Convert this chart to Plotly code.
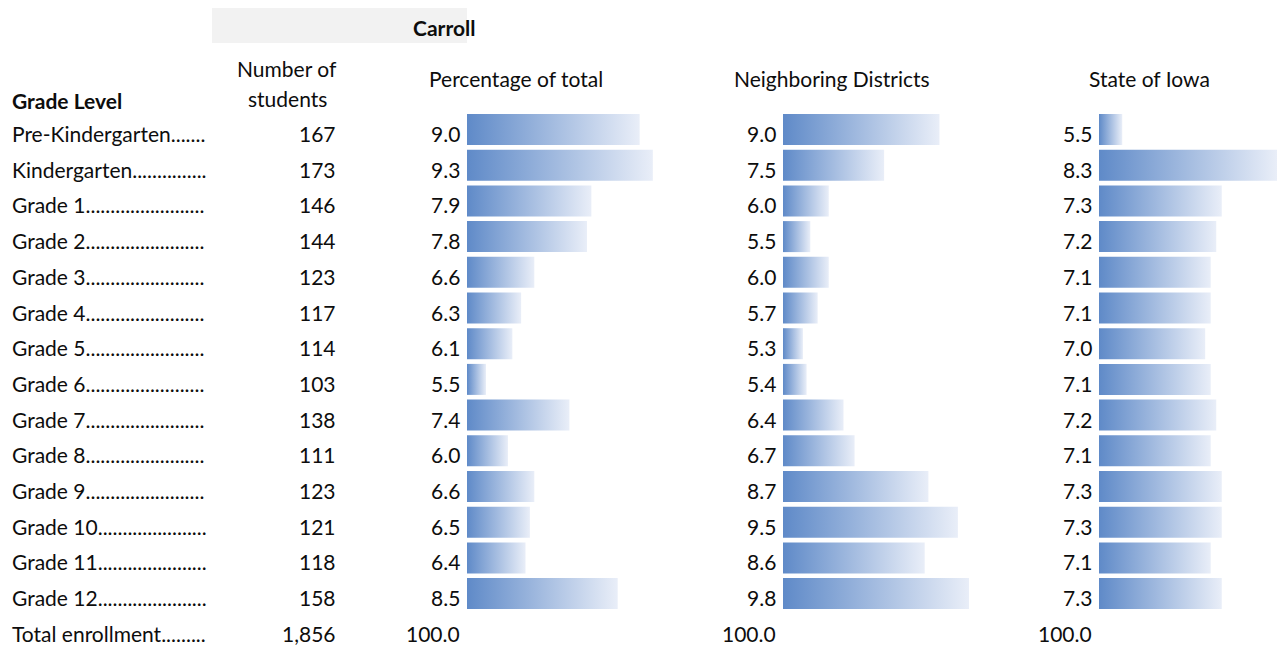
import plotly.graph_objects as go

# ---- data ----
grade_labels = ["Pre-Kindergarten.......", "Kindergarten...............", "Grade 1........................",
                "Grade 2........................", "Grade 3........................", "Grade 4........................",
                "Grade 5........................", "Grade 6........................", "Grade 7........................",
                "Grade 8........................", "Grade 9........................", "Grade 10......................",
                "Grade 11......................", "Grade 12......................"]
total_label = "Total enrollment........."
students = [167, 173, 146, 144, 123, 117, 114, 103, 138, 111, 123, 121, 118, 158]
total_students = "1,856"
pct_total = [9.0, 9.3, 7.9, 7.8, 6.6, 6.3, 6.1, 5.5, 7.4, 6.0, 6.6, 6.5, 6.4, 8.5]
neighboring = [9.0, 7.5, 6.0, 5.5, 6.0, 5.7, 5.3, 5.4, 6.4, 6.7, 8.7, 9.5, 8.6, 9.8]
iowa = [5.5, 8.3, 7.3, 7.2, 7.1, 7.1, 7.0, 7.1, 7.2, 7.1, 7.3, 7.3, 7.1, 7.3]
totals_pct = "100.0"
col_headers = ["Percentage of total", "Neighboring Districts", "State of Iowa"]

W, H = 1277, 647
FONT = "Lato"
FS = 21
TXT = "#0d0d0d"
C_LEFT, C_RIGHT = "#5f8ac8", "#e9eef8"

n = len(grade_labels)
rows = list(range(n))
total_row = n

# pixel helpers (layout only)
def px(xp):
    return xp / W

def py(yp):
    return 1 - yp / H

# y scale: row centres
row0_px, row_step = 129.5, 35.7
ylen = H / row_step
ya = -row0_px / row_step
yb = ya + ylen

fig = go.Figure()

# bar axes: (axis name, start pixel, base value, px per unit)
bar_axes = [
    ("x2", 467, 5.067, 43.9, pct_total),
    ("x3", 783, 4.76, 36.9, neighboring),
    ("x4", 1099, 5.08, 55.3, iowa),
]
half = 15.5 / row_step

layout_axes = {}
for k, (ax, startpx, base, ppu, vals) in enumerate(bar_axes):
    rng = [base, base + (W - startpx) / ppu]
    layout_axes["xaxis%d" % (k + 2)] = dict(domain=[px(startpx), 1], range=rng, visible=False,
                                            fixedrange=True, anchor="y")
    for i, v in zip(rows, vals):
        fig.add_trace(go.Scatter(
            x=[rng[0], v, v, rng[0], rng[0]],
            y=[i - half, i - half, i + half, i + half, i - half],
            xaxis=ax, yaxis="y", mode="lines", fill="toself",
            fillgradient=dict(type="horizontal", colorscale=[[0, C_LEFT], [1, C_RIGHT]]),
            line=dict(width=0, color="rgba(0,0,0,0)"),
            hoverinfo="skip", showlegend=False))

annotations = []

def add_text(x, y, text, xanchor="left", bold=False, yref="y", xref="x", yshift=-4):
    annotations.append(dict(x=x, y=y, xref=xref, yref=yref, text=("<b>%s</b>" % text) if bold else text,
                            showarrow=False, xanchor=xanchor, yanchor="middle", yshift=yshift,
                            font=dict(family=FONT, size=FS, color=TXT)))

# row labels and values
for i in rows:
    add_text(10, i, grade_labels[i])
    add_text(338, i, f"{students[i]:,}", xanchor="right")
    add_text(462, i, f"{pct_total[i]:.1f}", xanchor="right")
    add_text(778, i, f"{neighboring[i]:.1f}", xanchor="right")
    add_text(1094, i, f"{iowa[i]:.1f}", xanchor="right")

add_text(10, total_row, total_label)
add_text(338, total_row, total_students, xanchor="right")
add_text(462, total_row, totals_pct, xanchor="right")
add_text(778, total_row, totals_pct, xanchor="right")
add_text(1094, total_row, totals_pct, xanchor="right")

# headers (paper coords)
def add_header(xp, yp, text, xanchor="center", bold=False):
    annotations.append(dict(x=px(xp), y=py(yp), xref="paper", yref="paper",
                            text=("<b>%s</b>" % text) if bold else text, showarrow=False,
                            xanchor=xanchor, yanchor="middle",
                            font=dict(family=FONT, size=FS, color=TXT)))

add_header(444, 27, "Carroll", bold=True)
add_header(10, 100, "Grade Level", xanchor="left", bold=True)
add_header(287, 68, "Number of")
add_header(287, 98, "students")
add_header(516, 79, col_headers[0])
add_header(832, 79, col_headers[1])
add_header(1149, 79, col_headers[2])

fig.update_layout(
    width=W, height=H,
    margin=dict(l=0, r=0, t=0, b=0),
    paper_bgcolor="white", plot_bgcolor="white",
    xaxis=dict(domain=[0, 1], range=[0, W], visible=False, fixedrange=True),
    yaxis=dict(domain=[0, 1], range=[yb, ya], visible=False, fixedrange=True),
    shapes=[dict(type="rect", xref="paper", yref="paper", x0=px(212), x1=px(676),
                 y0=py(43), y1=py(8), fillcolor="#f2f2f2", line=dict(width=0), layer="below")],
    annotations=annotations,
    showlegend=False,
    **layout_axes,
)

fig.write_html("out.html", config={"displayModeBar": False},
               post_script="document.body.style.margin='0';document.body.style.overflow='hidden';")
